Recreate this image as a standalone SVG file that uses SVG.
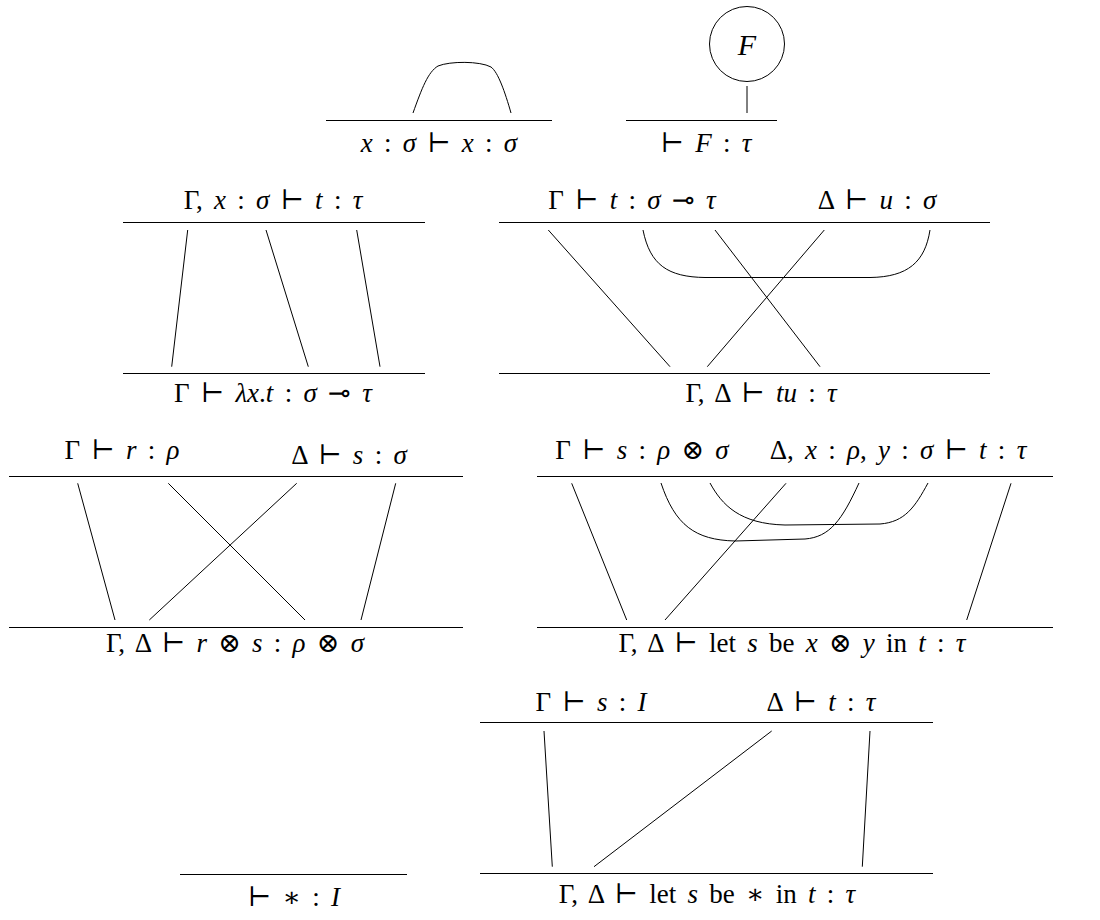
<svg xmlns="http://www.w3.org/2000/svg" width="1100" height="920" viewBox="0 0 1100 920">
  <style>
    .m { font-family: "Liberation Serif", "DejaVu Serif", serif; font-size: 27px; word-spacing: 4.5px; fill: #000; text-anchor: middle; }
    .i { font-style: italic; }
    .big { font-size: 30px; }
    .rule { stroke: #000; stroke-width: 1.1; fill: none; }
    .wire { stroke: #000; stroke-width: 1; fill: none; }
  </style>
  <rect width="1100" height="920" fill="#fff"/>

  <!-- axiom: identity -->
  <g id="rule-ax">
    <line class="rule" x1="326" y1="120.5" x2="552" y2="120.5"/>
    <text class="m" x="439" y="152"><tspan class="i">x</tspan> : <tspan class="i">σ</tspan> ⊢ <tspan class="i">x</tspan> : <tspan class="i">σ</tspan></text>
  </g>

  <!-- constant F -->
  <g id="rule-const">
    <line class="rule" x1="626" y1="120.5" x2="777" y2="120.5"/>
    <circle cx="747" cy="44" r="37.5" class="wire"/>
    <text class="m i big" x="747" y="55">F</text>
    <text class="m" x="706" y="152">⊢ <tspan class="i">F</tspan> : <tspan class="i">τ</tspan></text>
  </g>

  <!-- lambda abstraction -->
  <g id="rule-lam">
    <line class="rule" x1="123" y1="222.5" x2="425" y2="222.5"/>
    <line class="rule" x1="123" y1="373.5" x2="425" y2="373.5"/>
    <text class="m" x="273" y="209">Γ, <tspan class="i">x</tspan> : <tspan class="i">σ</tspan> ⊢ <tspan class="i">t</tspan> : <tspan class="i">τ</tspan></text>
    <text class="m" x="273" y="402">Γ ⊢ <tspan class="i">λx</tspan>.<tspan class="i">t</tspan> : <tspan class="i">σ</tspan> ⊸ <tspan class="i">τ</tspan></text>
  </g>

  <!-- application -->
  <g id="rule-app">
    <line class="rule" x1="499" y1="222.5" x2="990" y2="222.5"/>
    <line class="rule" x1="499" y1="373.5" x2="990" y2="373.5"/>
    <text class="m" x="632" y="209">Γ ⊢ <tspan class="i">t</tspan> : <tspan class="i">σ</tspan> ⊸ <tspan class="i">τ</tspan></text>
    <text class="m" x="877" y="209">Δ ⊢ <tspan class="i">u</tspan> : <tspan class="i">σ</tspan></text>
    <text class="m" x="761" y="402">Γ, Δ ⊢ <tspan class="i">tu</tspan> : <tspan class="i">τ</tspan></text>
  </g>

  <!-- tensor introduction -->
  <g id="rule-tensor-intro">
    <line class="rule" x1="9" y1="476.5" x2="463" y2="476.5"/>
    <line class="rule" x1="9" y1="627.5" x2="463" y2="627.5"/>
    <text class="m" x="122" y="459">Γ ⊢ <tspan class="i">r</tspan> : <tspan class="i">ρ</tspan></text>
    <text class="m" x="349" y="464">Δ ⊢ <tspan class="i">s</tspan> : <tspan class="i">σ</tspan></text>
    <text class="m" x="235" y="652">Γ, Δ ⊢ <tspan class="i">r</tspan> ⊗ <tspan class="i">s</tspan> : <tspan class="i">ρ</tspan> ⊗ <tspan class="i">σ</tspan></text>
  </g>

  <!-- tensor elimination -->
  <g id="rule-tensor-elim">
    <line class="rule" x1="537" y1="476.5" x2="1053" y2="476.5"/>
    <line class="rule" x1="537" y1="627.5" x2="1053" y2="627.5"/>
    <text class="m" x="642" y="459">Γ ⊢ <tspan class="i">s</tspan> : <tspan class="i">ρ</tspan> ⊗ <tspan class="i">σ</tspan></text>
    <text class="m" x="898" y="459">Δ, <tspan class="i">x</tspan> : <tspan class="i">ρ</tspan>, <tspan class="i">y</tspan> : <tspan class="i">σ</tspan> ⊢ <tspan class="i">t</tspan> : <tspan class="i">τ</tspan></text>
    <text class="m" x="792" y="652">Γ, Δ ⊢ let <tspan class="i">s</tspan> be <tspan class="i">x</tspan> ⊗ <tspan class="i">y</tspan> in <tspan class="i">t</tspan> : <tspan class="i">τ</tspan></text>
  </g>

  <!-- unit introduction -->
  <g id="rule-unit-intro">
    <line class="rule" x1="180" y1="874.5" x2="407" y2="874.5"/>
    <text class="m" x="294" y="906">⊢ ∗ : <tspan class="i">I</tspan></text>
  </g>

  <!-- unit elimination -->
  <g id="rule-unit-elim">
    <line class="rule" x1="480" y1="722.5" x2="933" y2="722.5"/>
    <line class="rule" x1="480" y1="873.5" x2="933" y2="873.5"/>
    <text class="m" x="591" y="711">Γ ⊢ <tspan class="i">s</tspan> : <tspan class="i">I</tspan></text>
    <text class="m" x="821" y="711">Δ ⊢ <tspan class="i">t</tspan> : <tspan class="i">τ</tspan></text>
    <text class="m" x="707" y="903">Γ, Δ ⊢ let <tspan class="i">s</tspan> be ∗ in <tspan class="i">t</tspan> : <tspan class="i">τ</tspan></text>
  </g>

  <!-- wires -->
  <g id="wires">
    <!-- identity cup -->
    <path class="wire" d="M413,113 C422,88 428,72 438,66 C450,61 480,61 491,67 C498,72 505,92 511,113"/>
    <!-- constant stem -->
    <line class="wire" x1="747" y1="86" x2="747" y2="113"/>

    <!-- lambda -->
    <line class="wire" x1="187.7" y1="230" x2="171.7" y2="366.7"/>
    <line class="wire" x1="266" y1="230" x2="308.3" y2="366.7"/>
    <line class="wire" x1="356.7" y1="230" x2="380" y2="366.7"/>

    <!-- application -->
    <line class="wire" x1="548.3" y1="230" x2="670" y2="366.7"/>
    <line class="wire" x1="715" y1="230" x2="820" y2="366.7"/>
    <line class="wire" x1="824.3" y1="230" x2="707.3" y2="366.7"/>
    <path class="wire" d="M643,230 C650,265 668,277 705,277.5 L870,277.5 C908,277 925,262 930,230"/>

    <!-- tensor introduction -->
    <line class="wire" x1="77.7" y1="483.3" x2="115" y2="620"/>
    <line class="wire" x1="168.3" y1="483.3" x2="305" y2="620"/>
    <line class="wire" x1="296.7" y1="483.3" x2="149.3" y2="620"/>
    <line class="wire" x1="395.7" y1="483.3" x2="361" y2="620"/>

    <!-- tensor elimination -->
    <line class="wire" x1="571.7" y1="483.3" x2="626.7" y2="620"/>
    <line class="wire" x1="786" y1="483.3" x2="665" y2="620"/>
    <line class="wire" x1="1011" y1="483.3" x2="966.7" y2="620"/>
    <path class="wire" d="M661,483 C675,525 695,540 735,541 L805,539 C830,537 842,520 859,483"/>
    <path class="wire" d="M710,483 C722,505 740,524 785,525 L880,524 C905,522 915,507 928,483"/>

    <!-- unit elimination -->
    <line class="wire" x1="544" y1="731" x2="552.3" y2="866.7"/>
    <line class="wire" x1="771.7" y1="731" x2="594" y2="866.7"/>
    <line class="wire" x1="870" y1="731" x2="862.3" y2="866.7"/>
  </g>
</svg>
